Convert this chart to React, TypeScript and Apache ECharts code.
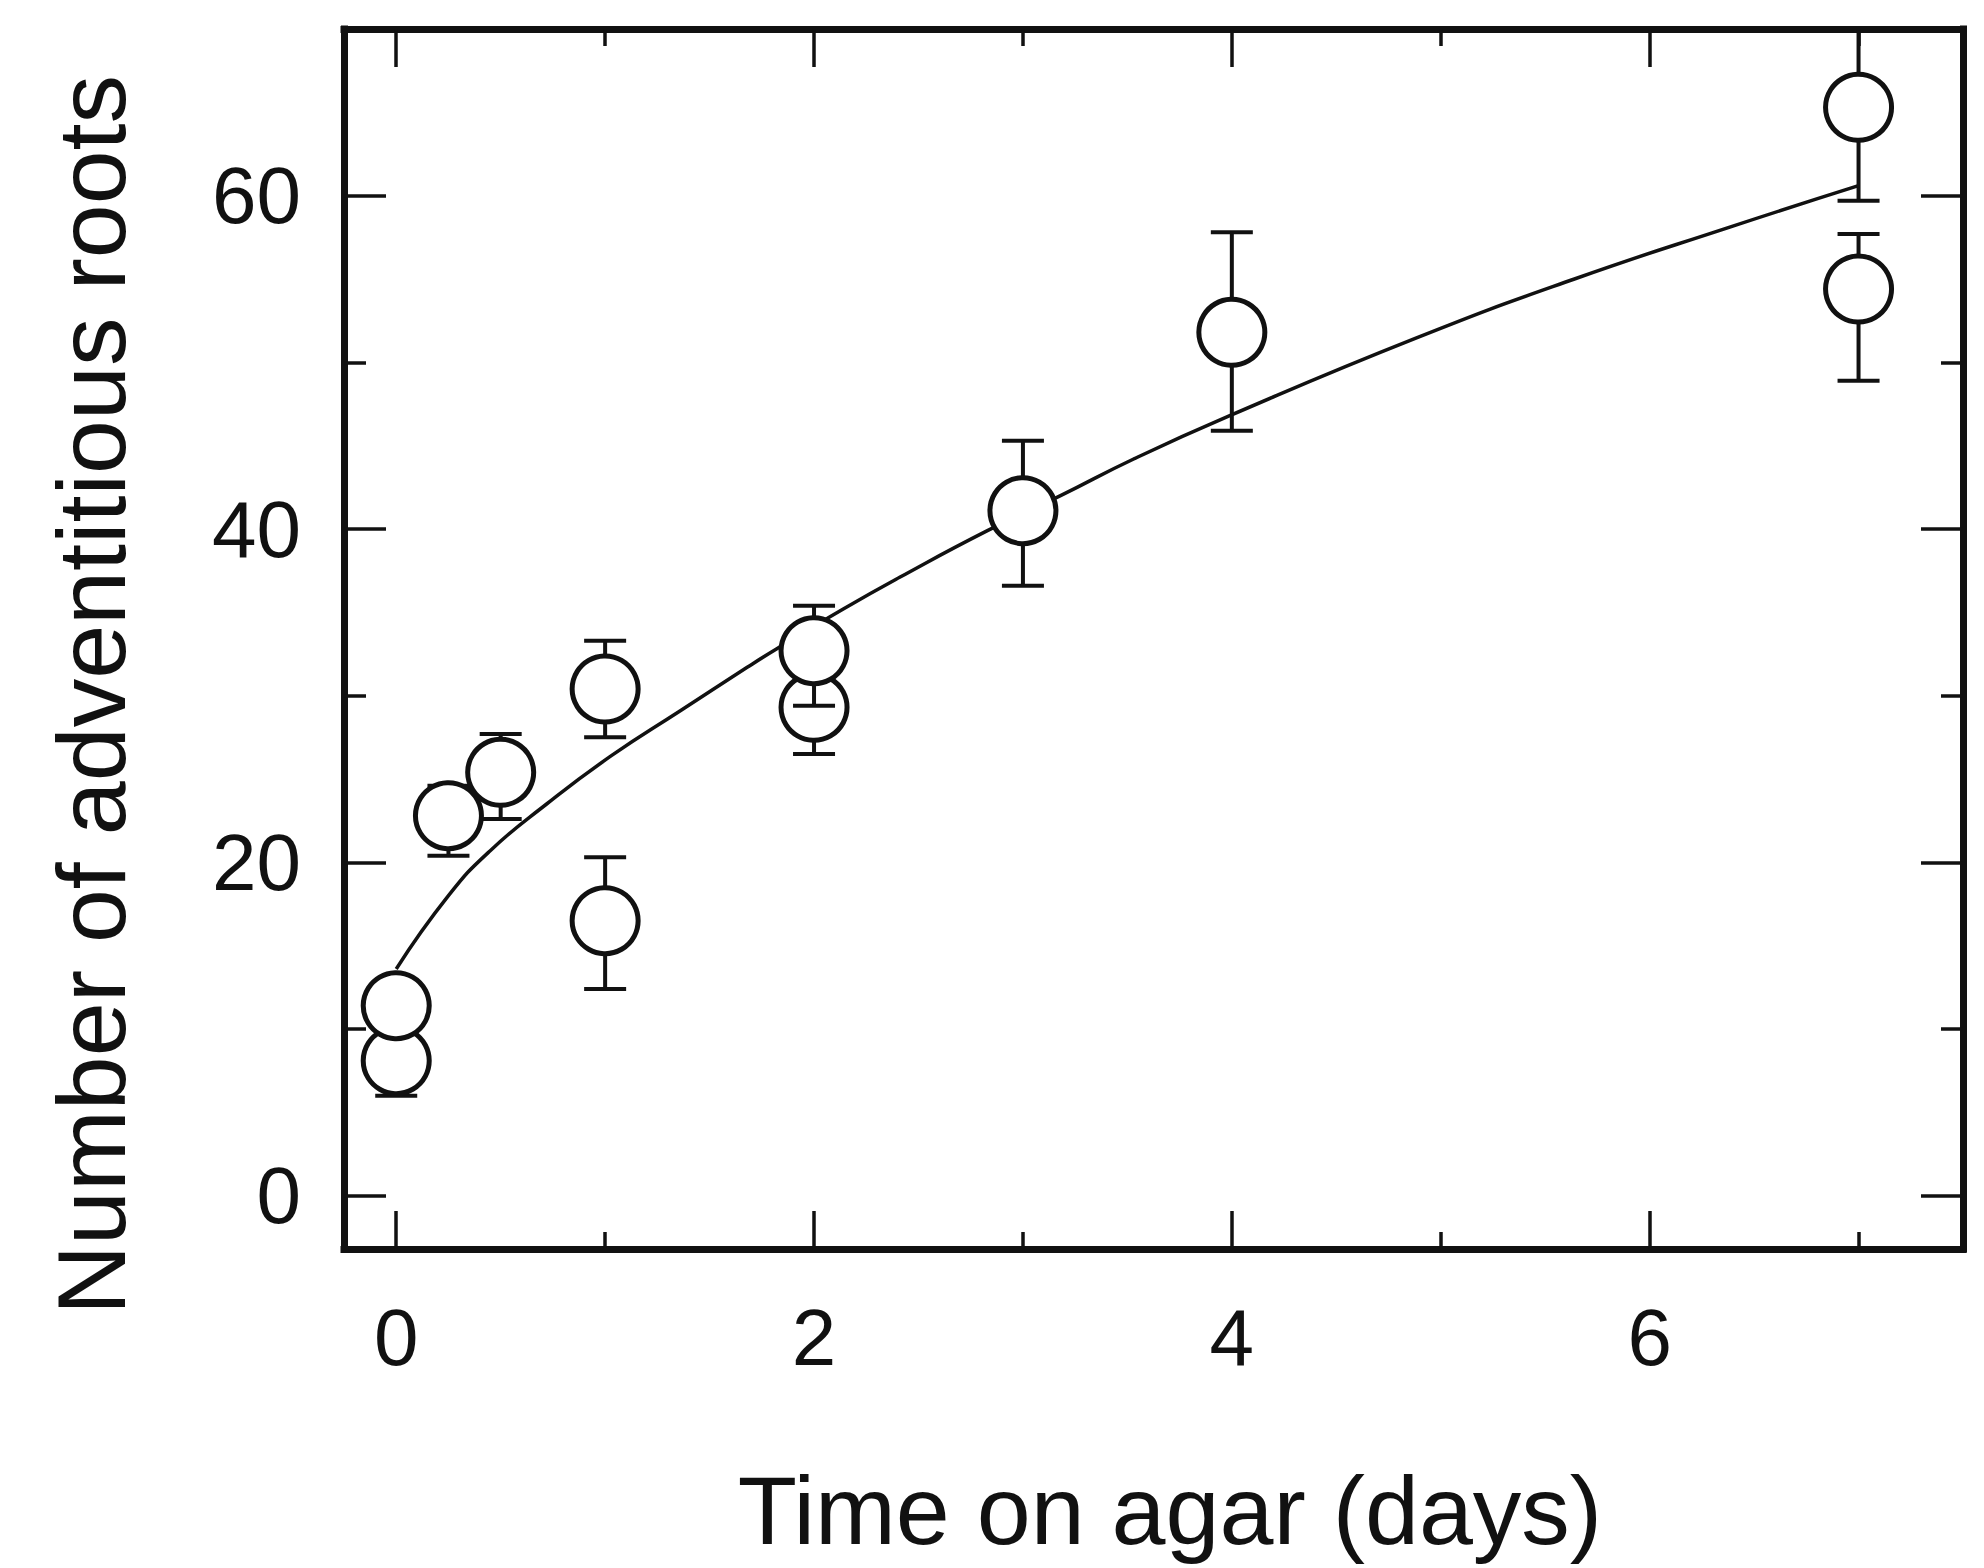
import React, { useEffect, useRef } from "react";
import * as echarts from "echarts";

// ---- data ----
const pointX = [0, 0, 0.25, 0.5, 1, 1, 2, 2, 3, 4, 7, 7];
const pointMean = [8.1, 11.4, 22.8, 25.4, 30.4, 16.5, 29.3, 32.7, 41.1, 51.8, 65.3, 54.4];
const pointLow = [6.0, 10.2, 20.4, 22.6, 27.5, 12.4, 26.5, 29.4, 36.6, 45.9, 59.7, 48.9];
const pointHigh = [10.2, 12.6, 24.6, 27.7, 33.3, 20.3, 32.1, 35.4, 45.3, 57.8, 70.9, 57.7];

const curveX = [0, 0.25, 0.45, 0.72, 1.03, 1.36, 1.68, 1.82, 2.14, 2.41, 2.83, 3.18, 3.53, 3.99, 4.89, 5.64, 6.38, 7];
const curveY = [13.6, 18.0, 20.7, 23.5, 26.4, 29.1, 31.7, 32.8, 35.2, 37.1, 39.9, 42.0, 44.2, 46.8, 51.5, 55.0, 58.1, 60.6];

const xMajorTicks = [0, 2, 4, 6];
const xMinorTicks = [1, 3, 5, 7];
const yMajorTicks = [0, 20, 40, 60];
const yMinorTicks = [10, 30, 50];

const xTitle = "Time on agar (days)";
const yTitle = "Number of adventitious roots";

const FONT = "'Liberation Sans', Arial, Helvetica, sans-serif";
const INK = "#111";

export default function App() {
  const ref = useRef<HTMLDivElement>(null);

  useEffect(() => {
    if (!ref.current) return;
    const chart = echarts.init(ref.current, null, { renderer: "svg" });

    const xRange = { min: -0.25, max: 7.5 };
    const yRange = { min: -3.2, max: 70 };

    const frameLine = { show: true, onZero: false, lineStyle: { color: INK, width: 7, cap: "square" } };
    const noLine = { show: false, onZero: false };

    const mkX = (position: string, ticks: number[], len: number, line: boolean, labels: boolean) => ({
      type: "value",
      position,
      ...xRange,
      axisLine: line ? frameLine : noLine,
      splitLine: { show: false },
      axisTick: {
        show: true,
        inside: true,
        length: len,
        customValues: ticks,
        lineStyle: { color: INK, width: 3.5 },
      },
      axisLabel: labels
        ? {
            show: true,
            customValues: ticks,
            margin: 48,
            fontSize: 80,
            fontFamily: FONT,
            color: INK,
          }
        : { show: false },
    });

    const mkY = (position: string, ticks: number[], len: number, line: boolean, labels: boolean) => ({
      type: "value",
      position,
      ...yRange,
      axisLine: line ? frameLine : noLine,
      splitLine: { show: false },
      axisTick: {
        show: true,
        inside: true,
        length: len,
        customValues: ticks,
        lineStyle: { color: INK, width: 3.5 },
      },
      axisLabel: labels
        ? {
            show: true,
            customValues: ticks,
            margin: 43,
            fontSize: 80,
            fontFamily: FONT,
            color: INK,
          }
        : { show: false },
    });

    const errData = pointX.map((x, i) => [x, pointMean[i], pointLow[i], pointHigh[i]]);
    const curveData = curveX.map((x, i) => [x, curveY[i]]);

    chart.setOption({
      animation: false,
      backgroundColor: "#ffffff",
      grid: {
        left: 344,
        right: 21,
        top: 29,
        bottom: 319,
        containLabel: false,
        outerBoundsMode: "none",
        show: false,
      },
      xAxis: [
        mkX("bottom", xMajorTicks, 38, true, true),
        mkX("bottom", xMinorTicks, 17, false, false),
        mkX("top", xMajorTicks, 38, true, false),
        mkX("top", xMinorTicks, 17, false, false),
      ],
      yAxis: [
        mkY("left", yMajorTicks, 42, true, true),
        mkY("left", yMinorTicks, 22, false, false),
        mkY("right", yMajorTicks, 42, true, false),
        mkY("right", yMinorTicks, 22, false, false),
      ],
      series: [
        {
          type: "line",
          xAxisIndex: 0,
          yAxisIndex: 0,
          data: curveData,
          smooth: 0.5,
          symbol: "none",
          lineStyle: { color: INK, width: 3.5 },
          z: 2,
          silent: true,
        },
        {
          type: "custom",
          xAxisIndex: 0,
          yAxisIndex: 0,
          data: errData,
          clip: true,
          z: 3,
          silent: true,
          renderItem: (params: any, api: any) => {
            const x = api.value(0);
            const c = api.coord([x, api.value(1)]);
            const lo = api.coord([x, api.value(2)]);
            const hi = api.coord([x, api.value(3)]);
            const hw = 21;
            const st = { stroke: INK, lineWidth: 4, fill: "none" };
            return {
              type: "group",
              children: [
                { type: "line", shape: { x1: lo[0], y1: lo[1], x2: hi[0], y2: hi[1] }, style: st },
                { type: "line", shape: { x1: lo[0] - hw, y1: lo[1], x2: lo[0] + hw, y2: lo[1] }, style: st },
                { type: "line", shape: { x1: hi[0] - hw, y1: hi[1], x2: hi[0] + hw, y2: hi[1] }, style: st },
                {
                  type: "circle",
                  shape: { cx: c[0], cy: c[1], r: 33 },
                  style: { fill: "#ffffff", stroke: INK, lineWidth: 5 },
                },
              ],
            };
          },
        },
      ],
      graphic: [
        {
          type: "text",
          x: 1170,
          y: 1510,
          style: {
            text: xTitle,
            fontSize: 97,
            fontFamily: FONT,
            fill: INK,
            textAlign: "center",
            textVerticalAlign: "middle",
          },
        },
        {
          type: "text",
          x: 91,
          y: 695,
          rotation: Math.PI / 2,
          style: {
            text: yTitle,
            fontSize: 97,
            fontFamily: FONT,
            fill: INK,
            textAlign: "center",
            textVerticalAlign: "middle",
          },
        },
      ],
    });

    return () => chart.dispose();
  }, []);

  return (
    <div
      ref={ref}
      style={{ position: "fixed", left: 0, top: 0, width: 1984, height: 1568, background: "#fff" }}
    />
  );
}
